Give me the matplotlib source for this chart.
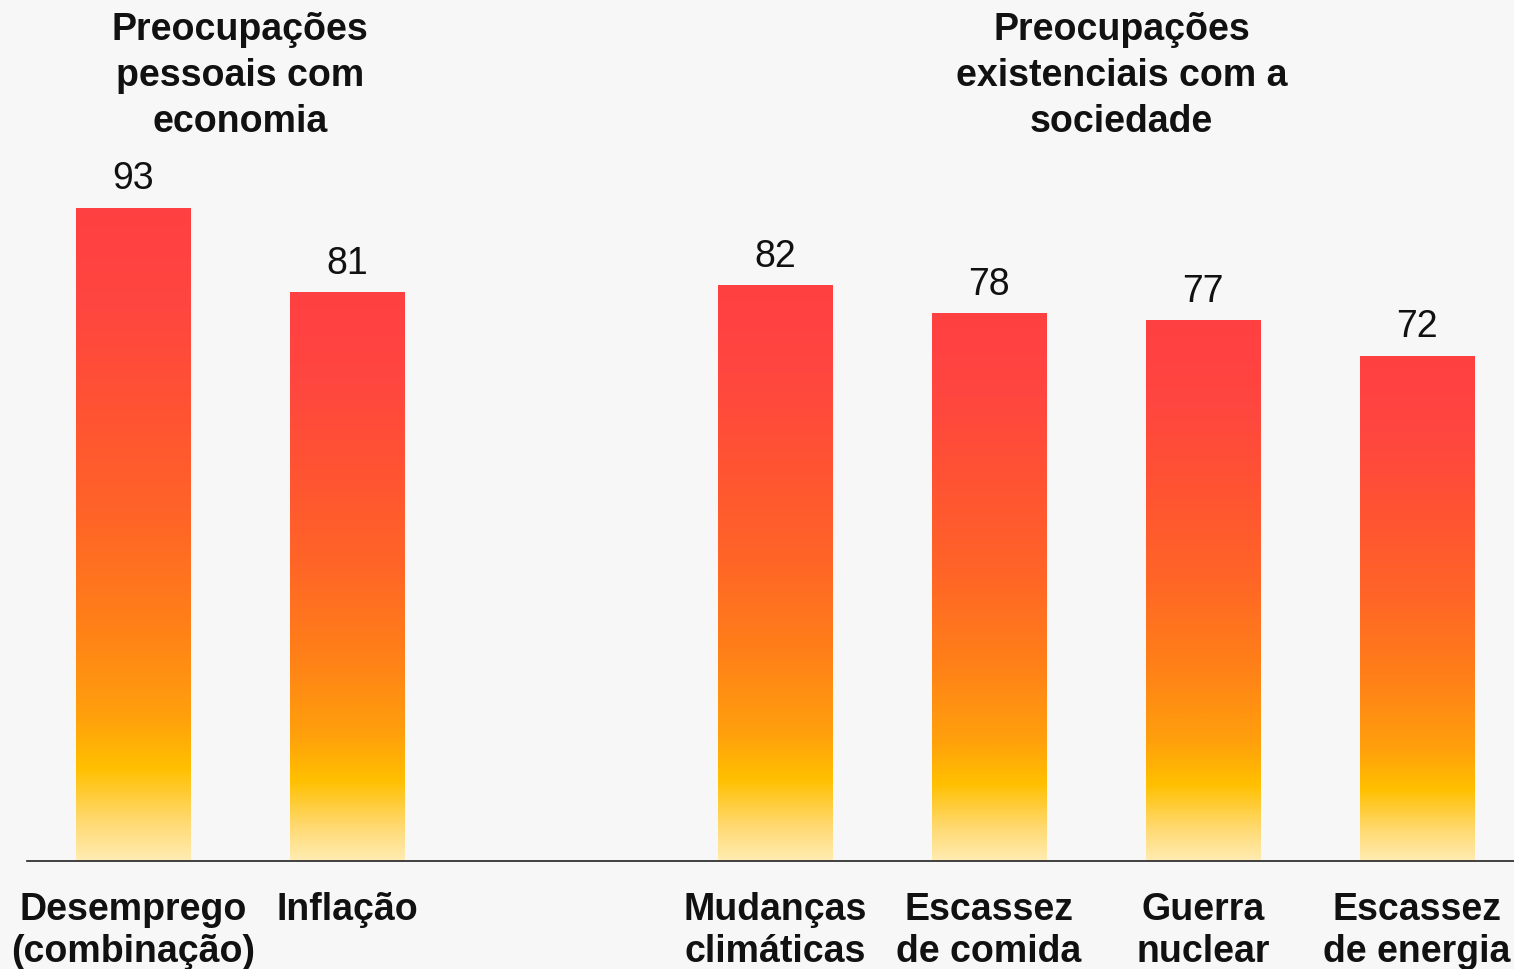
import matplotlib
matplotlib.use("Agg")
import matplotlib.pyplot as plt
import numpy as np
from matplotlib.colors import LinearSegmentedColormap

categories = ["Desemprego\n(combinação)", "Inflação", "Mudanças\nclimáticas",
              "Escassez\nde comida", "Guerra\nnuclear", "Escassez\nde energia"]
values = [93, 81, 82, 78, 77, 72]
positions = [0, 1, 3, 4, 5, 6]
group_titles = ["Preocupações\npessoais com\neconomia",
                "Preocupações\nexistenciais com a\nsociedade"]
group_title_x = [0.5, 4.62]

plt.rcParams['font.family'] = ['Liberation Sans', 'DejaVu Sans']
W, H = 1514, 969
fig = plt.figure(figsize=(W / 100, H / 100), dpi=100)
bg = "#F7F7F7"
fig.patch.set_facecolor(bg)

ax_bottom = 861
ax = fig.add_axes([27 / W, (H - ax_bottom) / H, 1 - 27 / W, ax_bottom / H])
ax.set_facecolor(bg)
ppu = 7.02

cmap = LinearSegmentedColormap.from_list("grad", [
    (0.0, "#FFECB2"),
    (0.06, "#FFD970"),
    (0.14, "#FFC000"),
    (0.22, "#FFA00C"),
    (0.36, "#FF8018"),
    (0.53, "#FF6427"),
    (0.70, "#FF5233"),
    (0.85, "#FF4640"),
    (1.0, "#FF4042"),
])

width = 0.535
bars = ax.bar(positions, values, width=width, color="none", edgecolor="none", zorder=2)
grad = np.linspace(0, 1, 512).reshape(-1, 1)
for rect in bars:
    x0 = rect.get_x()
    h = rect.get_height()
    im = ax.imshow(grad, cmap=cmap, origin="lower", aspect="auto",
                   extent=[x0, x0 + rect.get_width(), 0, h], zorder=2,
                   interpolation="bilinear")
    im.set_clip_path(rect)

ax.set_xlim(-0.495, 6.453)
ax.set_ylim(0, ax_bottom / ppu)

fs = 27
for p, v in zip(positions, values):
    ax.annotate(str(v), (p, v), xytext=(0, 13.5), textcoords="offset points",
                ha="center", va="baseline", fontsize=fs, color="#111111")

for t, x in zip(group_titles, group_title_x):
    ax.text(x, (ax_bottom - 76) / ppu, t, ha="center", va="center",
            fontsize=fs, fontweight="bold", linespacing=1.36,
            multialignment="center", color="#111111")

ax.set_xticks(positions)
ax.set_xticklabels(categories, fontsize=fs, fontweight="bold", color="#111111",
                   linespacing=1.22)
ax.tick_params(axis="x", length=0, pad=22.5)
ax.set_yticks([])
for s in ["top", "right", "left"]:
    ax.spines[s].set_visible(False)
ax.spines["bottom"].set_color("#222222")
ax.spines["bottom"].set_linewidth(1.2)

fig.savefig("out.png", dpi=100, facecolor=bg)
